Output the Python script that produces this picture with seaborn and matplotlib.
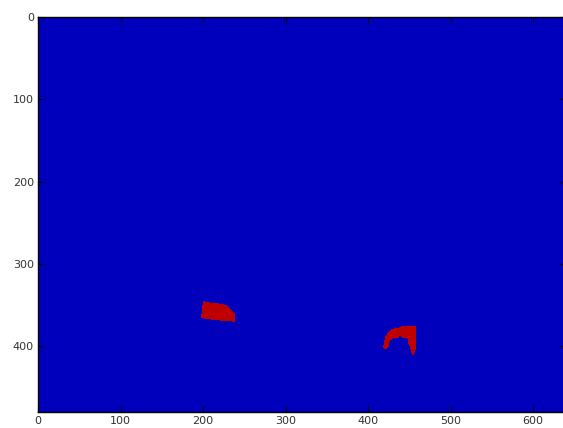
import numpy as np
import seaborn as sns
import matplotlib
matplotlib.use("Agg")
import matplotlib.pyplot as plt
from matplotlib.path import Path
from matplotlib.colors import ListedColormap

# image size (rows x cols)
n_rows = 480
n_cols = 640

# outlines of the two red regions in the mask (x, y in pixel coords)
blob1_x = [200, 216, 228, 231.5, 239, 239, 216, 204, 198]
blob1_y = [345, 348, 350, 353, 360, 371, 368, 367, 366]

blob2_x = [418, 419, 423, 429, 435, 442, 458, 458, 455, 453, 450, 447, 441, 439, 436, 430, 427, 424, 421]
blob2_y = [402, 394, 385, 379, 378, 376, 375, 404, 412, 410, 398, 390, 390, 387, 390, 390, 394, 402, 404]

x_ticks = [0, 100, 200, 300, 400, 500, 600]
y_ticks = [0, 100, 200, 300, 400]

# build the mask from the outlines
yy, xx = np.mgrid[0:n_rows, 0:n_cols]
pts = np.column_stack([xx.ravel() + 0.5, yy.ravel() + 0.5])
mask = np.zeros(n_rows * n_cols)
for bx, by in [(blob1_x, blob1_y), (blob2_x, blob2_y)]:
    mask[Path(np.column_stack([bx, by])).contains_points(pts)] = 1
mask = mask.reshape(n_rows, n_cols)

fig = plt.figure(figsize=(5.63, 4.28), dpi=100)
ax = fig.add_axes([38 / 563, 16 / 428, 528 / 563, 395 / 428])

cmap = ListedColormap(["#0000bc", "#bf0000"])
sns.heatmap(mask, ax=ax, cmap=cmap, cbar=False, vmin=0, vmax=1,
            xticklabels=False, yticklabels=False, rasterized=True)

ax.set_xticks(x_ticks)
ax.set_xticklabels([str(t) for t in x_ticks])
ax.set_yticks(y_ticks)
ax.set_yticklabels([str(t) for t in y_ticks], rotation=0)
ax.tick_params(direction="in", length=4, width=0.8, colors="black",
               labelcolor="#333333", labelsize=8, top=True, right=True,
               pad=3)
for s in ax.spines.values():
    s.set_visible(True)
    s.set_color("black")
    s.set_linewidth(1.0)
ax.set_xlabel("")
ax.set_ylabel("")

fig.savefig("out.png", dpi=100)
